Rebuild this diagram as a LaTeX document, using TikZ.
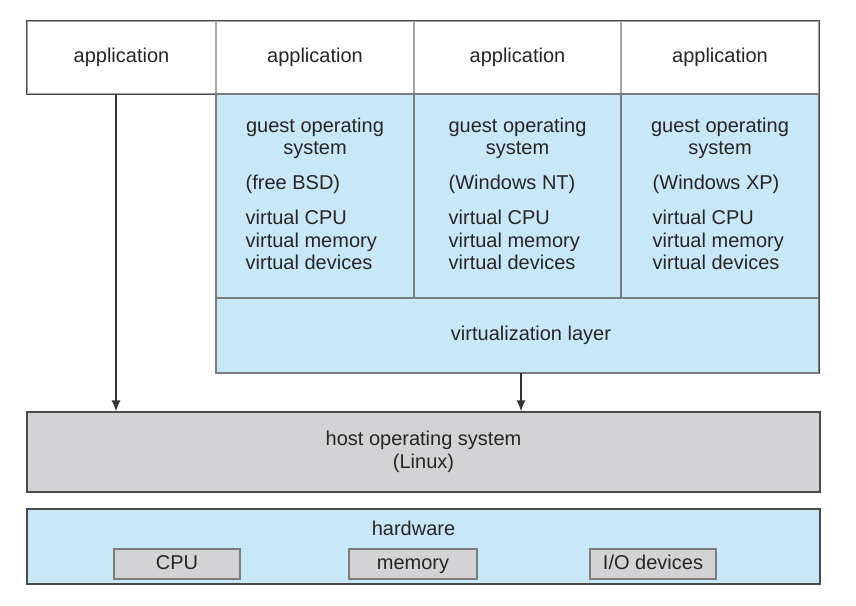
\documentclass[tikz,border=0pt]{standalone}
\usepackage{fontspec}
\setmainfont{Liberation Sans}
\usetikzlibrary{positioning}
\usetikzlibrary{arrows.meta}
\usepackage{xcolor}

\definecolor{guestblue}{HTML}{C8E8F8}
\definecolor{hostgray}{HTML}{D3D3D5}
\definecolor{edgedark}{HTML}{4A4A4A}
\definecolor{edgemid}{HTML}{7C7C7C}
\definecolor{edgelight}{HTML}{A4A4A4}

\tikzset{
  layertext/.style={font=\fontsize{20}{22.5}\selectfont, text=black!85, inner sep=0pt},
  layer/.style={layertext, draw=edgedark, line width=1.2pt, align=center},
  appbox/.style={layer, draw=edgelight, fill=white, minimum height=73pt, text height=14.5pt, text depth=4.2pt},
  guestbox/.style={layer, draw=edgemid, fill=guestblue, minimum height=204pt},
  unitbox/.style={layer, draw=edgemid, fill=hostgray, minimum height=30pt, text height=14.5pt, text depth=4.2pt},
  flow/.style={-{Latex[length=11pt,width=9pt]}, line width=1.6pt, black!80}
}

\begin{document}
\begin{tikzpicture}[x=1pt,y=1pt]
\fill[white] (0,0) rectangle (856,605);
\useasboundingbox (0,0) rectangle (856,605);

% applications on top
\node[appbox, minimum width=189pt] (app0) at (121.5,547.5) {application};
\node[appbox, minimum width=198pt] (app1) at (315,547.5) {application};
\node[appbox, minimum width=207pt] (app2) at (517.5,547.5) {application};
\node[appbox, minimum width=198pt] (app3) at (720,547.5) {application};
\draw[edgedark, line width=1.2pt] (app0.north west) rectangle (app3.south east);

% guest operating systems
\begin{scope}[xshift=315pt]{
\node[guestbox, minimum width=198pt] (guest1) at (0,409) {};
\node[layertext, anchor=base] (os1) at (0,472) {guest operating};
\node[layertext, anchor=base] (sys1) at (0,450) {system};
\node[layertext, anchor=base west] (name1) at (-69.5,415) {(free BSD)};
\node[layertext, anchor=base west] (vcpu1) at (-69.5,380) {virtual CPU};
\node[layertext, anchor=base west] (vmem1) at (-69.5,357.5) {virtual memory};
\node[layertext, anchor=base west] (vdev1) at (-69.5,335) {virtual devices};
} \end{scope}
\begin{scope}[xshift=517.5pt]{
\node[guestbox, minimum width=207pt] (guest2) at (0,409) {};
\node[layertext, anchor=base] (os2) at (0,472) {guest operating};
\node[layertext, anchor=base] (sys2) at (0,450) {system};
\node[layertext, anchor=base west] (name2) at (-69,415) {(Windows NT)};
\node[layertext, anchor=base west] (vcpu2) at (-69,380) {virtual CPU};
\node[layertext, anchor=base west] (vmem2) at (-69,357.5) {virtual memory};
\node[layertext, anchor=base west] (vdev2) at (-69,335) {virtual devices};
} \end{scope}
\begin{scope}[xshift=720pt]{
\node[guestbox, minimum width=198pt] (guest3) at (0,409) {};
\node[layertext, anchor=base] (os3) at (0,472) {guest operating};
\node[layertext, anchor=base] (sys3) at (0,450) {system};
\node[layertext, anchor=base west] (name3) at (-67.5,415) {(Windows XP)};
\node[layertext, anchor=base west] (vcpu3) at (-67.5,380) {virtual CPU};
\node[layertext, anchor=base west] (vmem3) at (-67.5,357.5) {virtual memory};
\node[layertext, anchor=base west] (vdev3) at (-67.5,335) {virtual devices};
} \end{scope}
\draw[edgedark, line width=1.2pt] (guest1.north east -| guest3.east) -- (guest3.south east) -- (guest3.south west);

% virtualization layer
\node[guestbox, minimum width=603pt, minimum height=75pt] (virt) at (517.5,269.5) {};
\draw[edgedark, line width=1.2pt] (virt.north east) -- (virt.south east);
\node[layertext, anchor=base] (virtlabel) at (531,264) {virtualization layer};

% host operating system
\node[layer, fill=hostgray, minimum width=793pt, minimum height=80pt] (host) at (423.5,153) {host operating system\\(Linux)};

% hardware
\node[layer, fill=guestblue, minimum width=793pt, minimum height=75pt] (hw) at (423.5,58.5) {};
\node[layertext, anchor=base] (hwlabel) at (413.5,70) {hardware};
\node[unitbox, minimum width=126pt] (cpu) at (177,41) {CPU};
\node[unitbox, minimum width=128pt] (mem) at (413,41) {memory};
\node[unitbox, minimum width=126pt] (io) at (653,41) {I/O devices};

% calls down to the host
\coordinate (a0) at (116,511);
\coordinate (a1) at (521,232);
\draw[flow] (a0) -- (a0 |- host.north);
\draw[flow] (a1) -- (a1 |- host.north);

\end{tikzpicture}
\end{document}
